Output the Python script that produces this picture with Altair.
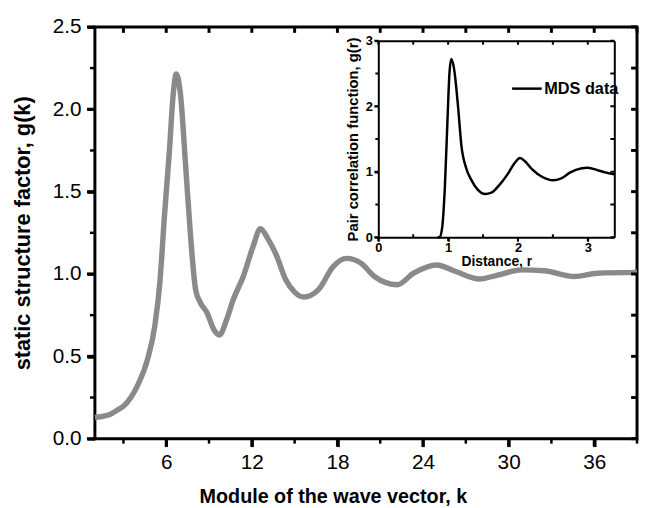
import altair as alt
import pandas as pd

# main curve: static structure factor
k_vals = [1.0, 1.5, 2.0, 2.5, 3.1, 4.0, 4.7, 5.2, 5.55, 5.87, 6.22, 6.5, 6.7, 7.0, 7.37, 7.71,
          8.06, 8.4, 8.86, 9.32, 9.73, 10.24, 10.7, 11.4, 12.08, 12.6, 13.12, 13.69, 14.38,
          15.0, 15.64, 16.67, 17.7, 18.63, 19.66, 20.59, 22.2, 23.34, 24.95, 26.3, 27.96,
          29.3, 30.9, 32.5, 34.6, 36.2, 39.0]
s_vals = [0.13, 0.135, 0.145, 0.17, 0.205, 0.325, 0.485, 0.685, 0.945, 1.345, 1.745, 2.10, 2.215,
          2.09, 1.645, 1.225, 0.905, 0.825, 0.765, 0.665, 0.63, 0.725, 0.845, 0.985, 1.165,
          1.275, 1.215, 1.12, 0.965, 0.89, 0.86, 0.905, 1.045, 1.095, 1.065, 0.985, 0.935,
          1.005, 1.055, 1.015, 0.97, 0.995, 1.025, 1.02, 0.985, 1.005, 1.01]

# inset curve: pair correlation function
r_vals = [0.85, 0.88, 0.915, 0.953, 0.99, 1.02, 1.045, 1.085, 1.14, 1.19, 1.26, 1.33, 1.42,
          1.53, 1.62, 1.72, 1.85, 1.95, 2.03, 2.1, 2.2, 2.35, 2.5, 2.62, 2.75, 2.9, 3.0,
          3.15, 3.25, 3.38]
gr_vals = [0.0, 0.0, 0.15, 0.76, 1.77, 2.52, 2.72, 2.57, 2.02, 1.4, 1.05, 0.88, 0.73, 0.66,
           0.68, 0.78, 0.96, 1.13, 1.21, 1.16, 1.04, 0.92, 0.87, 0.9, 0.99, 1.05, 1.06, 1.02,
           0.99, 0.96]
series_name = ["MDS data"]

main_x_major = [6, 12, 18, 24, 30, 36]
main_x_minor = [3, 9, 15, 21, 27, 33, 39]
main_y_major = [0, 0.5, 1.0, 1.5, 2.0, 2.5]
main_y_minor = [0.25, 0.75, 1.25, 1.75, 2.25]
inset_x_major = [0, 1, 2, 3]
inset_x_minor = [0.5, 1.5, 2.5]
inset_y_major = [0, 1, 2, 3]
inset_y_minor = [0.5, 1.5, 2.5]

W, H = 549, 417
IN_X = [287, 526]
IN_Y = [213, 14]
FONT = "Liberation Sans"

main_df = pd.DataFrame({"k": k_vals, "g": s_vals})
inset_df = pd.DataFrame({"r": r_vals, "gr": gr_vals, "series": series_name * len(r_vals)})

xs = alt.Scale(domain=[1, 39], nice=False, zero=False)
ys = alt.Scale(domain=[0, 2.5], nice=False, zero=False)
ixs = alt.Scale(domain=[0, 3.38], range=IN_X, nice=False, zero=False)
iys = alt.Scale(domain=[0, 3], range=IN_Y, nice=False, zero=False)


def xticks(values, scale, yc, length, width):
    return alt.Chart(pd.DataFrame({"v": values})).mark_tick(
        color="black", orient="vertical", size=length, thickness=width, opacity=1
    ).encode(x=alt.X("v:Q", scale=scale, axis=None), y=alt.value(yc))


def yticks(values, scale, xc, length, width):
    return alt.Chart(pd.DataFrame({"v": values})).mark_tick(
        color="black", orient="horizontal", size=length, thickness=width, opacity=1
    ).encode(y=alt.Y("v:Q", scale=scale, axis=None), x=alt.value(xc))


# ---------- main axes ----------
bottom_axis = alt.Axis(
    orient="bottom", values=main_x_major, grid=False, domain=False, ticks=True,
    tickSize=8, tickWidth=3, tickColor="black",
    labelFont=FONT, labelFontSize=21, labelColor="black", labelPadding=5,
    labelFlush=False, labelOverlap=False,
    title="Module of the wave vector, k", titleFont=FONT, titleFontSize=20,
    titleFontWeight="bold", titleColor="black", titleX=241, titleY=59,
    titleBaseline="middle", titleAlign="center")

left_axis = alt.Axis(
    orient="left", values=main_y_major, grid=False, domain=False, format=".1f", ticks=True,
    tickSize=8, tickWidth=3, tickColor="black",
    labelFont=FONT, labelFontSize=21, labelColor="black", labelPadding=6,
    labelFlush=False, labelOverlap=False,
    title="static structure factor, g(k)", titleFont=FONT, titleFontSize=22,
    titleFontWeight="bold", titleColor="black", titleX=-73, titleY=208.5,
    titleBaseline="middle", titleAlign="center")

main_line = alt.Chart(main_df).mark_line(
    color="#8a8a8a", strokeWidth=5.5, interpolate="monotone"
).encode(
    x=alt.X("k:Q", scale=xs, axis=bottom_axis),
    y=alt.Y("g:Q", scale=ys, axis=left_axis),
)
main_group = alt.layer(
    main_line,
    xticks(main_x_major, xs, H + 4, 8, 3),
    xticks(main_x_minor, xs, H + 2.5, 5, 2.5),
    xticks(main_x_major + main_x_minor, xs, 3, 6, 3),
    yticks(main_y_major, ys, -4, 8, 3),
    yticks(main_y_minor, ys, -2.5, 5, 2.5),
    yticks(main_y_major + main_y_minor, ys, W - 3, 6, 3),
).resolve_axis(x="independent", y="independent")

# ---------- inset axes ----------
in_bottom = alt.Axis(
    orient="bottom", values=inset_x_major, grid=False, offset=-(H - IN_Y[0]),
    domain=True, domainColor="black", domainWidth=2, format="d", ticks=True,
    tickSize=4, tickWidth=2, tickColor="black",
    labelFont=FONT, labelFontSize=13, labelFontWeight="bold", labelColor="black",
    labelPadding=0, labelFlush=False, labelOverlap=False,
    title="Distance, r", titleFont=FONT, titleFontSize=14, titleFontWeight="bold",
    titleColor="black", titlePadding=1)
in_left = alt.Axis(
    orient="left", values=inset_y_major, grid=False, offset=-IN_X[0],
    domain=True, domainColor="black", domainWidth=2, format="d", ticks=True,
    tickSize=4, tickWidth=2, tickColor="black",
    labelFont=FONT, labelFontSize=13, labelFontWeight="bold", labelColor="black",
    labelPadding=2, labelFlush=False, labelOverlap=False,
    title="Pair correlation function, g(r)", titleFont=FONT, titleFontSize=15,
    titleFontWeight="bold", titleColor="black", titlePadding=5)
in_top = alt.Axis(orient="top", values=inset_x_major, grid=False, offset=-IN_Y[1],
                  domain=True, domainColor="black", domainWidth=2, ticks=False,
                  labels=False, title=None)
in_right = alt.Axis(orient="right", values=inset_y_major, grid=False, offset=-(W - IN_X[1]),
                    domain=True, domainColor="black", domainWidth=2, ticks=False,
                    labels=False, title=None)

legend = alt.Legend(orient="none", legendX=421, legendY=46, title=None, symbolType="stroke",
                    symbolSize=900, symbolStrokeWidth=2.5, labelFont=FONT, labelFontSize=16.5,
                    labelFontWeight="bold", labelColor="black", labelOffset=1, padding=0)

inset_line = alt.Chart(inset_df).mark_line(strokeWidth=2.5, interpolate="monotone").encode(
    x=alt.X("r:Q", scale=ixs, axis=in_bottom),
    y=alt.Y("gr:Q", scale=iys, axis=in_left),
    color=alt.Color("series:N", scale=alt.Scale(domain=series_name, range=["black"]),
                    legend=legend),
)
inset_frame = alt.Chart(inset_df).mark_line(strokeOpacity=0).encode(
    x=alt.X("r:Q", scale=ixs, axis=in_top),
    y=alt.Y("gr:Q", scale=iys, axis=in_right),
)
inset_group = alt.layer(
    inset_line,
    inset_frame,
    xticks(inset_x_major, ixs, IN_Y[0] + 2, 4, 2),
    xticks(inset_x_minor, ixs, IN_Y[0] - 1.5, 3, 2),
    xticks(inset_x_major + inset_x_minor, ixs, IN_Y[1] + 2, 4, 2),
    yticks(inset_y_major, iys, IN_X[0] - 2, 4, 2),
    yticks(inset_y_minor, iys, IN_X[0] - 1.5, 3, 2),
    yticks(inset_y_major + inset_y_minor, iys, IN_X[1] - 2, 4, 2),
).resolve_axis(x="independent", y="independent")

chart = alt.layer(main_group, inset_group).resolve_scale(
    x="independent", y="independent"
).properties(
    width=W, height=H,
    autosize=alt.AutoSizeParams(type="none"),
    padding={"left": 88, "top": 16, "right": 2, "bottom": 66},
    background="white",
).configure_view(stroke="black", strokeWidth=3)

chart.save("out.html", embed_options={"renderer": "svg", "actions": False})
